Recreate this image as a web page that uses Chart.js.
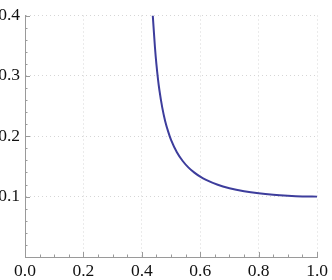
<!DOCTYPE html>
<html>
<head>
<meta charset="utf-8">
<script src="https://cdn.jsdelivr.net/npm/chart.js@4/dist/chart.umd.min.js"></script>
<style>
  html, body { margin: 0; padding: 0; background: #ffffff; }
  #wrap { width: 332px; height: 280px; }
</style>
</head>
<body>
<div id="wrap"><canvas id="plot" width="332" height="280"></canvas></div>
<script>
// values
const xValues = [0.4375, 0.44, 0.445, 0.45, 0.455, 0.46, 0.47, 0.48, 0.49, 0.50, 0.52, 0.54, 0.56, 0.58, 0.60, 0.62, 0.66, 0.70, 0.75, 0.80, 0.85, 0.90, 0.95, 1.0];
const yValues = [0.400, 0.382, 0.347, 0.319, 0.296, 0.277, 0.2475, 0.225, 0.208, 0.194, 0.1735, 0.159, 0.148, 0.1397, 0.133, 0.1277, 0.1196, 0.114, 0.109, 0.1055, 0.1031, 0.1015, 0.1004, 0.100];

// tick labels
const xTickLabels = ['0.0', '0.2', '0.4', '0.6', '0.8', '1.0'];
const yTickLabels = ['', '0.1', '0.2', '0.3', '0.4'];

const axisGray = '#9a9a9a';
const labelFont = { family: "'Liberation Serif', 'Times New Roman', serif", size: 17.5 };

// small inward tick marks like the original (major + minor)
const tickMarks = {
    id: 'tickMarks',
    afterDraw(chart) {
        const c = chart.ctx;
        const xs = chart.scales.x, ys = chart.scales.y;
        const area = chart.chartArea;
        c.save();
        c.strokeStyle = axisGray;
        c.lineWidth = 1;
        c.beginPath();
        for (let i = 0; i <= 20; i++) {
            const px = Math.round(xs.getPixelForValue(i * 0.05)) + 0.5;
            const len = (i % 4 === 0) ? 5 : 2.5;
            c.moveTo(px, area.bottom);
            c.lineTo(px, area.bottom - len);
        }
        for (let i = 0; i <= 20; i++) {
            const py = Math.round(ys.getPixelForValue(i * 0.02)) + 0.5;
            const len = (i % 5 === 0) ? 5 : 2.5;
            c.moveTo(area.left, py);
            c.lineTo(area.left + len, py);
        }
        c.stroke();
        c.restore();
    }
};

const ctx = document.getElementById('plot').getContext('2d');

new Chart(ctx, {
    type: 'scatter',
    data: {
        datasets: [{
            data: xValues.map((x, i) => ({ x: x, y: yValues[i] })),
            showLine: true,
            borderColor: '#3d3d9c',
            borderWidth: 2,
            pointRadius: 0,
            cubicInterpolationMode: 'monotone',
            fill: false
        }]
    },
    options: {
        responsive: false,
        animation: false,
        events: [],
        layout: { padding: { top: 9, right: 11, left: 0, bottom: 0 } },
        plugins: { legend: { display: false }, tooltip: { enabled: false } },
        scales: {
            x: {
                type: 'linear',
                min: 0,
                max: 1,
                afterFit: (scale) => { scale.height = 23; },
                grid: {
                    drawTicks: false,
                    color: (c) => (c.tick && c.tick.value > 0) ? '#d6d6d6' : 'rgba(0,0,0,0)',
                    lineWidth: 1
                },
                border: { display: true, color: axisGray, width: 1, dash: [1, 3] },
                ticks: {
                    stepSize: 0.2,
                    padding: 4,
                    color: '#111',
                    maxRotation: 0,
                    font: labelFont,
                    callback: (v) => xTickLabels[Math.round(v * 5)]
                }
            },
            y: {
                type: 'linear',
                min: 0,
                max: 0.4,
                afterFit: (scale) => { scale.width = 25; },
                grid: {
                    drawTicks: false,
                    color: (c) => (c.tick && c.tick.value > 0) ? '#d6d6d6' : 'rgba(0,0,0,0)',
                    lineWidth: 1
                },
                border: { display: true, color: axisGray, width: 1, dash: [1, 3] },
                ticks: {
                    stepSize: 0.1,
                    padding: 5,
                    color: '#111',
                    font: labelFont,
                    callback: (v) => yTickLabels[Math.round(v * 10)]
                }
            }
        }
    },
    plugins: [tickMarks]
});
</script>
</body>
</html>
